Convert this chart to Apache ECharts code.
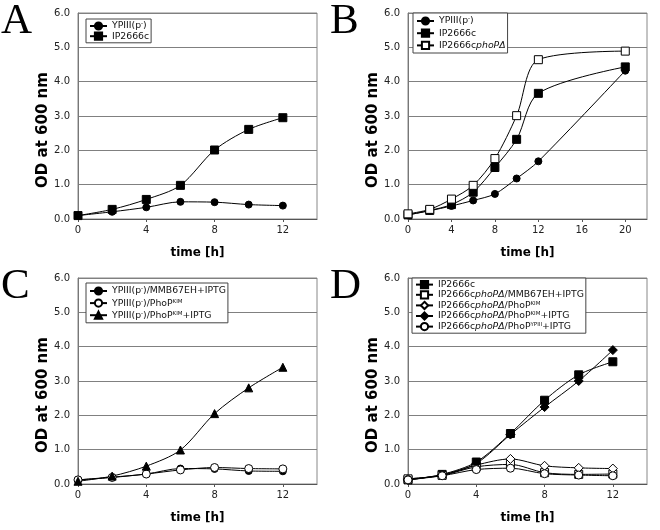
<!DOCTYPE html>
<html>
<head>
<meta charset="utf-8">
<script src="https://cdn.jsdelivr.net/npm/echarts@6/dist/echarts.min.js"></script>
<style>
html,body{margin:0;padding:0;background:#fff;}
#c{width:660px;height:530px;}
</style>
</head>
<body>
<div id="c"></div>
<script>
// ---- data ----
const timesA = [0, 2, 4, 6, 8, 10, 12];
const timesB = [0, 2, 4, 6, 8, 10, 12, 20];
const timesC = [0, 2, 4, 6, 8, 10, 12];
const timesD = [0, 2, 4, 6, 8, 10, 12];

const namesA = ['YPIII(p-)', 'IP2666c'];
const A_ypiii = [0.10, 0.21, 0.34, 0.50, 0.49, 0.42, 0.39];
const A_ip2666c = [0.10, 0.28, 0.57, 0.98, 2.01, 2.61, 2.95];

const namesB = ['YPIII(p-)', 'IP2666c', 'IP2666cphoPΔ'];
const B_ypiii = [0.12, 0.24, 0.38, 0.54, 0.73, 1.18, 1.68, 4.32];
const B_ip2666c = [0.12, 0.25, 0.42, 0.78, 1.50, 2.32, 3.66, 4.43];
const B_phoP = [0.15, 0.28, 0.58, 0.98, 1.76, 3.01, 4.64, 4.89];

const namesC = ['YPIII(p-)/MMB67EH+IPTG', 'YPIII(p-)/PhoPKIM', 'YPIII(p-)/PhoPKIM+IPTG'];
const C_mmb = [0.12, 0.20, 0.29, 0.45, 0.44, 0.38, 0.37];
const C_kim = [0.12, 0.19, 0.29, 0.41, 0.48, 0.45, 0.44];
const C_kimIptg = [0.08, 0.23, 0.52, 0.99, 2.05, 2.80, 3.40];

const namesD = ['IP2666c', 'IP2666cphoPΔ/MMB67EH+IPTG', 'IP2666cphoPΔ/PhoPKIM', 'IP2666cphoPΔ/PhoPKIM+IPTG', 'IP2666cphoPΔ/PhoPYPIII+IPTG'];
const D_ip2666c = [0.12, 0.28, 0.64, 1.47, 2.44, 3.18, 3.56];
const D_mmb = [0.15, 0.25, 0.50, 0.57, 0.33, 0.28, 0.29];
const D_kim = [0.15, 0.25, 0.55, 0.73, 0.53, 0.47, 0.45];
const D_kimIptg = [0.12, 0.27, 0.60, 1.44, 2.24, 3.00, 3.90];
const D_ypiii = [0.12, 0.24, 0.42, 0.46, 0.30, 0.26, 0.24];

const xTicks12 = [0, 4, 8, 12];
const xTicks20 = [0, 4, 8, 12, 16, 20];
const yTicks = [0, 1, 2, 3, 4, 5, 6];
const panelLetters = ['A', 'B', 'C', 'D'];

// ---- helpers ----
function pairs(ts, vs) { return ts.map((t, i) => [t, vs[i]]); }

const legendMarkup = {
  'YPIII(p-)': '{n|YPIII(p}{s|-}{n|)}',
  'IP2666c': '{n|IP2666c}',
  'IP2666cphoPΔ': '{n|IP2666c}{i|phoPΔ}',
  'YPIII(p-)/MMB67EH+IPTG': '{n|YPIII(p}{s|-}{n|)/MMB67EH+IPTG}',
  'YPIII(p-)/PhoPKIM': '{n|YPIII(p}{s|-}{n|)/PhoP}{s|KIM}',
  'YPIII(p-)/PhoPKIM+IPTG': '{n|YPIII(p}{s|-}{n|)/PhoP}{s|KIM}{n|+IPTG}',
  'IP2666cphoPΔ/MMB67EH+IPTG': '{n|IP2666c}{i|phoPΔ}{n|/MMB67EH+IPTG}',
  'IP2666cphoPΔ/PhoPKIM': '{n|IP2666c}{i|phoPΔ}{n|/PhoP}{s|KIM}',
  'IP2666cphoPΔ/PhoPKIM+IPTG': '{n|IP2666c}{i|phoPΔ}{n|/PhoP}{s|KIM}{n|+IPTG}',
  'IP2666cphoPΔ/PhoPYPIII+IPTG': '{n|IP2666c}{i|phoPΔ}{n|/PhoP}{s|YPIII}{n|+IPTG}'
};

const FONT = 'DejaVu Sans';
const rich = {
  n: { fontFamily: FONT, fontSize: 9.3, color: '#111', lineHeight: 10 },
  i: { fontFamily: FONT, fontSize: 9.3, color: '#111', fontStyle: 'italic', lineHeight: 10 },
  s: { fontFamily: FONT, fontSize: 5.5, color: '#111', lineHeight: 6, verticalAlign: 'top' }
};

const grids = [
  { left: 78, top: 13, width: 239, height: 206 },
  { left: 408, top: 13, width: 239, height: 206 },
  { left: 78, top: 278, width: 239, height: 206 },
  { left: 408, top: 278, width: 239, height: 206 }
];

function xAxisFor(i, max, ticks) {
  return {
    type: 'value', gridIndex: i, min: 0, max: max, interval: 4,
    name: 'time [h]', nameLocation: 'middle', nameGap: 28,
    nameTextStyle: { fontFamily: FONT, fontWeight: 'bold', fontSize: 12, color: '#000' },
    axisLine: { show: true, onZero: false, lineStyle: { color: '#555', width: 1 } },
    axisTick: { show: true, length: 3, lineStyle: { color: '#555' }, customValues: ticks },
    axisLabel: { customValues: ticks, fontFamily: FONT, fontSize: 10, color: '#222', margin: 6,
      formatter: v => (ticks.indexOf(v) >= 0 ? String(v) : '') },
    splitLine: { show: false }
  };
}
function yAxisFor(i) {
  return {
    type: 'value', gridIndex: i, min: 0, max: 6, interval: 1,
    name: 'OD at 600 nm', nameLocation: 'middle', nameGap: 23,
    nameTextStyle: { fontFamily: FONT, fontWeight: 'bold', fontSize: 15, color: '#000', padding: [0, 28, 0, 0] },
    axisLine: { show: true, lineStyle: { color: '#777', width: 1 } },
    axisTick: { show: false },
    axisLabel: { fontFamily: FONT, fontSize: 10, color: '#222', margin: 8,
      formatter: v => (yTicks.indexOf(v) >= 0 ? v.toFixed(1) : '') },
    splitLine: { show: true, lineStyle: { color: '#808080', width: 1 } }
  };
}

const filled = { color: '#000', borderColor: '#000', borderWidth: 1 };
const open = { color: '#fff', borderColor: '#000', borderWidth: 1 };

function line(name, gi, ts, vs, symbol, size, style) {
  return {
    type: 'line', name: name, xAxisIndex: gi, yAxisIndex: gi,
    data: pairs(ts, vs), smooth: 0.3, symbol: symbol, symbolSize: size,
    showAllSymbol: true,
    lineStyle: { color: '#000', width: 1 },
    itemStyle: style, emphasis: { disabled: true }, z: 3
  };
}

const series = [
  line(namesA[0], 0, timesA, A_ypiii, 'circle', 7, filled),
  line(namesA[1], 0, timesA, A_ip2666c, 'rect', 8, filled),

  line(namesB[0], 1, timesB, B_ypiii, 'circle', 7, filled),
  line(namesB[1], 1, timesB, B_ip2666c, 'rect', 8, filled),
  line(namesB[2], 1, timesB, B_phoP, 'rect', 8, open),

  line(namesC[0], 2, timesC, C_mmb, 'circle', 7, filled),
  line(namesC[1], 2, timesC, C_kim, 'circle', 8, open),
  line(namesC[2], 2, timesC, C_kimIptg, 'triangle', 8, filled),

  line(namesD[0], 3, timesD, D_ip2666c, 'rect', 8, filled),
  line(namesD[1], 3, timesD, D_mmb, 'rect', 8, open),
  line(namesD[2], 3, timesD, D_kim, 'diamond', 9, open),
  line(namesD[3], 3, timesD, D_kimIptg, 'diamond', 9, filled),
  line(namesD[4], 3, timesD, D_ypiii, 'circle', 8, open)
];

function legendFor(names, left, top, gap, padV) {
  return {
    data: names, orient: 'vertical', left: left, top: top,
    backgroundColor: '#fff', borderColor: '#444', borderWidth: 1,
    padding: [padV, 2, padV, 3], itemWidth: 17, itemHeight: 9, itemGap: gap,
    selectedMode: false,
    formatter: n => legendMarkup[n] || n,
    textStyle: { fontFamily: FONT, fontSize: 9.3, color: '#111', rich: rich }
  };
}

const letterPos = [[1, 0], [330, 0], [1, 265], [330, 265]];
const graphics = panelLetters.map((L, i) => ({
  type: 'text', left: letterPos[i][0], top: letterPos[i][1], z: 10,
  style: { text: L, font: '43px "Liberation Serif"', fill: '#000' }
}));

const chart = echarts.init(document.getElementById('c'), null, { renderer: 'canvas' });
chart.setOption({
  animation: false,
  backgroundColor: '#fff',
  grid: grids.map(g => Object.assign({ show: true, borderColor: '#888', borderWidth: 1, backgroundColor: '#fff' }, g)),
  xAxis: [xAxisFor(0, 14, xTicks12), xAxisFor(1, 22, xTicks20), xAxisFor(2, 14, xTicks12), xAxisFor(3, 14, xTicks12)],
  yAxis: [yAxisFor(0), yAxisFor(1), yAxisFor(2), yAxisFor(3)],
  legend: [
    legendFor(namesA, 86, 19, 1, 2),
    legendFor(namesB, 413, 13, 3, 3),
    legendFor(namesC, 86, 283, 2.5, 3),
    legendFor(namesD, 412, 278, 1, 2)
  ],
  graphic: graphics,
  series: series
});
</script>
</body>
</html>
